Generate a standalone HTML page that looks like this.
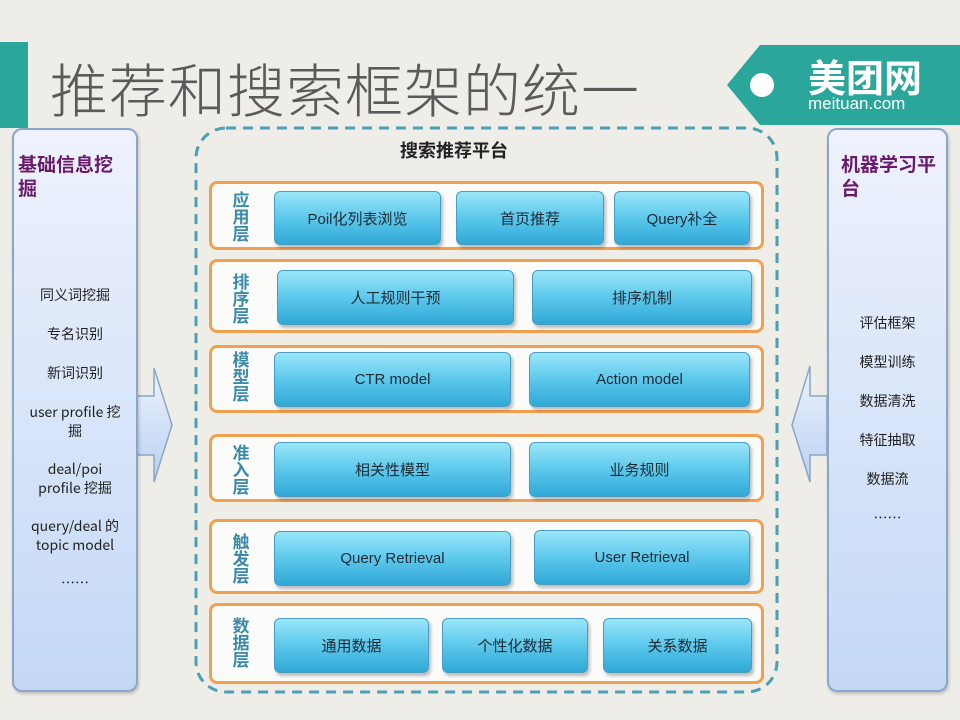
<!DOCTYPE html>
<html><head><meta charset="utf-8"><style>
*{margin:0;padding:0;box-sizing:border-box}
body{width:960px;height:720px;background:#efede8;position:relative;overflow:hidden;font-family:"Liberation Sans","Noto Sans CJK SC",sans-serif}
.a{position:absolute}
.title{left:50px;top:52px;font-size:58px;color:#5a5a5a;letter-spacing:1px;line-height:70px;font-family:"Noto Sans CJK SC",sans-serif;font-weight:300}
.panel{position:absolute;top:128px;height:564px;border:2px solid #8aa6c8;border-radius:10px;background:linear-gradient(#eef2fc,#c4d8f6);box-shadow:1px 2px 3px rgba(0,0,0,.2)}
.ph{position:absolute;left:4px;top:22px;font-size:19px;font-weight:bold;color:#6a1a6a;line-height:24px;font-family:"Noto Sans CJK SC",sans-serif}
.pi{position:absolute;width:100%;text-align:center;font-size:14px;color:#222;line-height:19px;font-family:"Noto Sans CJK SC",sans-serif}
.row{position:absolute;left:209px;width:555px;border:3px solid #f0a050;border-radius:8px;background:#fbfbfa}
.lab{position:absolute;left:230px;width:22px;font-size:17px;font-weight:bold;color:#3a8aa8;line-height:17px;text-align:center;font-family:"Noto Sans CJK SC",sans-serif}
.btn{position:absolute;border:1px solid #4a9cc0;border-radius:6px;background:linear-gradient(#9ae6f8,#5cc8ec 50%,#30a8d6);box-shadow:2px 3px 3px rgba(0,0,0,.25);display:flex;align-items:center;justify-content:center;font-size:15px;color:#1e2a33;font-family:"Liberation Sans","Noto Sans CJK SC",sans-serif}
</style></head><body>
<div class="a" style="left:0;top:42px;width:28px;height:86px;background:#2aa79a"></div>
<div class="a title">推荐和搜索框架的统一</div>
<svg class="a" style="left:0;top:0" width="960" height="720">
<polygon points="727,85 760,45 960,45 960,125 760,125" fill="#2aa79a"/>
<circle cx="762" cy="85" r="12" fill="#fff"/>
<rect x="196" y="128" width="581" height="564" rx="30" fill="none" stroke="#4aa0b5" stroke-width="3" stroke-dasharray="10,7"/>
<defs><linearGradient id="ag" x1="0" y1="0" x2="0" y2="1"><stop offset="0" stop-color="#eef3fd"/><stop offset="1" stop-color="#b8d0f2"/></linearGradient></defs>
<polygon points="137,396 154,396 154,368 172,425 154,482 154,455 137,455" fill="url(#ag)" stroke="#8aa6c8" stroke-width="1.5"/>
<polygon points="827,396 810,396 810,366 792,425 810,482 810,455 827,455" fill="url(#ag)" stroke="#8aa6c8" stroke-width="1.5"/>
</svg>
<div class="a" style="left:808px;top:54px;font-size:38px;color:#fff;font-weight:bold;font-family:'Noto Sans CJK SC',sans-serif;line-height:44px">美团网</div>
<div class="a" style="left:808px;top:94px;font-size:17px;color:#fff;line-height:20px">meituan.com</div>

<div class="panel" style="left:12px;width:126px">
<div class="ph">基础信息挖<br>掘</div>
<div class="pi" style="top:156px">同义词挖掘</div>
<div class="pi" style="top:195px">专名识别</div>
<div class="pi" style="top:234px">新词识别</div>
<div class="pi" style="top:273px">user profile 挖<br>掘</div>
<div class="pi" style="top:330px">deal/poi<br>profile 挖掘</div>
<div class="pi" style="top:387px">query/deal 的<br>topic model</div>
<div class="pi" style="top:444px">……</div>
</div>
<div class="panel" style="left:827px;width:121px">
<div class="ph" style="left:12px">机器学习平<br>台</div>
<div class="pi" style="top:184px">评估框架</div>
<div class="pi" style="top:223px">模型训练</div>
<div class="pi" style="top:262px">数据清洗</div>
<div class="pi" style="top:301px">特征抽取</div>
<div class="pi" style="top:340px">数据流</div>
<div class="pi" style="top:379px">……</div>
</div>

<div class="a" style="left:400px;top:137px;font-size:18px;font-weight:bold;color:#222;font-family:'Noto Sans CJK SC',sans-serif">搜索推荐平台</div>

<div class="row" style="top:181px;height:69px"></div>
<div class="row" style="top:259px;height:74px"></div>
<div class="row" style="top:345px;height:68px"></div>
<div class="row" style="top:434px;height:68px"></div>
<div class="row" style="top:519px;height:75px"></div>
<div class="row" style="top:603px;height:81px"></div>

<div class="lab" style="top:190px">应<br>用<br>层</div>
<div class="lab" style="top:272px">排<br>序<br>层</div>
<div class="lab" style="top:350px">模<br>型<br>层</div>
<div class="lab" style="top:443px">准<br>入<br>层</div>
<div class="lab" style="top:532px">触<br>发<br>层</div>
<div class="lab" style="top:616px">数<br>据<br>层</div>

<div class="btn" style="left:274px;top:191px;width:167px;height:54px">Poil化列表浏览</div>
<div class="btn" style="left:456px;top:191px;width:148px;height:54px">首页推荐</div>
<div class="btn" style="left:614px;top:191px;width:136px;height:54px">Query补全</div>
<div class="btn" style="left:277px;top:270px;width:237px;height:55px">人工规则干预</div>
<div class="btn" style="left:532px;top:270px;width:220px;height:55px">排序机制</div>
<div class="btn" style="left:274px;top:352px;width:237px;height:55px">CTR model</div>
<div class="btn" style="left:529px;top:352px;width:221px;height:55px">Action model</div>
<div class="btn" style="left:274px;top:442px;width:237px;height:55px">相关性模型</div>
<div class="btn" style="left:529px;top:442px;width:221px;height:55px">业务规则</div>
<div class="btn" style="left:274px;top:531px;width:237px;height:55px">Query Retrieval</div>
<div class="btn" style="left:534px;top:530px;width:216px;height:55px">User Retrieval</div>
<div class="btn" style="left:274px;top:618px;width:155px;height:55px">通用数据</div>
<div class="btn" style="left:442px;top:618px;width:146px;height:55px">个性化数据</div>
<div class="btn" style="left:603px;top:618px;width:149px;height:55px">关系数据</div>
</body></html>
